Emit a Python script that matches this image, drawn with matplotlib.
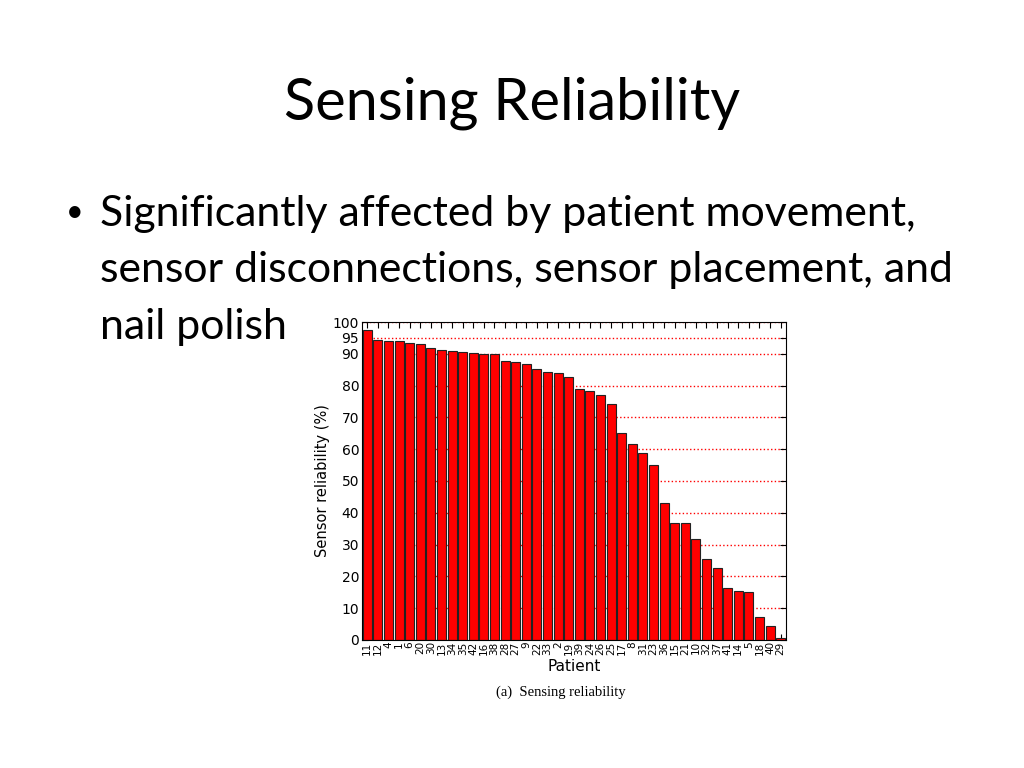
import matplotlib
matplotlib.use("Agg")
import matplotlib.pyplot as plt
import numpy as np

# patients sorted by reliability (left to right)
patients = ["11", "12", "4", "1", "6", "20", "30", "13", "34", "35",
            "42", "16", "38", "28", "27", "9", "22", "33", "2", "19",
            "39", "24", "26", "25", "17", "8", "31", "23", "36", "15",
            "21", "10", "32", "37", "41", "14", "5", "18", "40", "29"]
reliability = [97.5, 94.5, 94.1, 93.9, 93.4, 93.0, 91.9, 91.1, 90.9, 90.6,
               90.3, 89.9, 89.9, 87.6, 87.3, 86.9, 85.1, 84.4, 83.9, 82.6,
               79.0, 78.3, 76.9, 74.1, 65.1, 61.6, 58.9, 54.9, 43.0, 36.9,
               36.9, 31.8, 25.4, 22.5, 16.5, 15.3, 15.1, 7.2, 4.5, 0.7]
yticks = [0, 10, 20, 30, 40, 50, 60, 70, 80, 90, 95, 100]

SLIDE_FONT = ["Lato", "DejaVu Sans"]

fig = plt.figure(figsize=(10.24, 7.68), dpi=100)
fig.patch.set_facecolor("white")

# ---------- slide text ----------
fig.text(0.5, 0.866, "Sensing Reliability", ha="center", va="center",
         fontsize=41.5, family=SLIDE_FONT)
fig.text(0.064, 0.724, "\u2022", ha="left", va="center", fontsize=22,
         family=SLIDE_FONT)
lines = ["Significantly affected by patient movement,",
         "sensor disconnections, sensor placement, and",
         "nail polish"]
for i, ln in enumerate(lines):
    fig.text(0.098, 0.722 - i * 0.074, ln, ha="left", va="center",
             fontsize=30.8, family=SLIDE_FONT)

# ---------- chart ----------
ax = fig.add_axes([0.3535, 0.1667, 0.414, 0.414])
x = np.arange(len(patients))
ax.bar(x, reliability, width=0.85, color="#ff0000", edgecolor="#222222",
       linewidth=0.8, zorder=2)

ax.set_xlim(-0.5, len(patients) - 0.5)
ax.set_ylim(0, 100)
ax.set_yticks(yticks)
ax.set_xticks(x)
ax.set_xticklabels(patients, rotation=90, fontsize=7.5)
ax.tick_params(axis="y", labelsize=10, direction="in", right=True, length=4,
               pad=2)
ax.tick_params(axis="x", direction="in", top=True, length=4, pad=1)
ax.yaxis.grid(True, color="red", linestyle=":", linewidth=1.0, zorder=0)
ax.set_axisbelow(True)
for s in ax.spines.values():
    s.set_linewidth(0.8)

ax.set_ylabel("Sensor reliability (%)", fontsize=10.5, labelpad=2)
ax.set_xlabel("Patient", fontsize=11, labelpad=3)

fig.text(0.548, 0.098, "(a)  Sensing reliability", ha="center", va="center",
         fontsize=10.5, family="Liberation Serif")

fig.savefig("out.png", dpi=100, facecolor="white")
